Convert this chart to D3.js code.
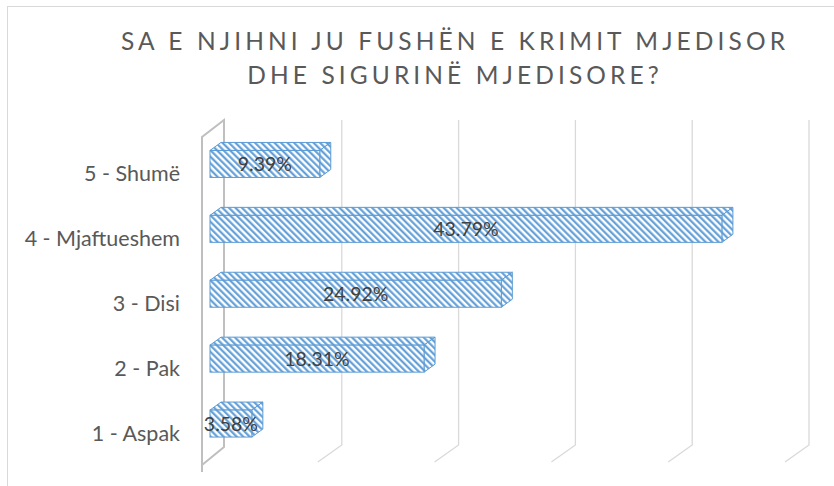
<!DOCTYPE html>
<html>
<head>
<meta charset="utf-8">
<script src="https://cdn.jsdelivr.net/npm/d3@7"></script>
<style>
  html, body { margin: 0; padding: 0; background: #fff; }
  svg { display: block; }
</style>
</head>
<body>
<svg id="chart" width="834" height="486"></svg>
<script>
// ---- data ----
const titleLines = ["SA E NJIHNI JU FUSHËN E KRIMIT MJEDISOR", "DHE SIGURINË MJEDISORE?"];
const categories = ["5 - Shumë", "4 - Mjaftueshem", "3 - Disi", "2 - Pak", "1 - Aspak"];
const values = [9.39, 43.79, 24.92, 18.31, 3.58];
const valueLabels = ["9.39%", "43.79%", "24.92%", "18.31%", "3.58%"];
const gridTicks = [10, 20, 30, 40, 50];

// ---- layout ----
const svg = d3.select("#chart");
const blue = "#5B9BD5";
const fontFam = "Lato, 'Open Sans', sans-serif";

// chart border
svg.append("rect").attr("x", 7.5).attr("y", 6.5).attr("width", 900).attr("height", 520)
  .attr("fill", "#fff").attr("stroke", "#D9D9D9").attr("stroke-width", 1);

// hatch pattern
const defs = svg.append("defs");
const pat = defs.append("pattern").attr("id", "hatch")
  .attr("patternUnits", "userSpaceOnUse").attr("width", 4.6).attr("height", 4.6)
  .attr("patternTransform", "rotate(-45)");
pat.append("rect").attr("width", 4.6).attr("height", 4.6).attr("fill", "#fff");
pat.append("line").attr("x1", 1.2).attr("y1", 0).attr("x2", 1.2).attr("y2", 4.6)
  .attr("stroke", blue).attr("stroke-width", 2.1);

// scales
const xFront = d3.scaleLinear().domain([0, 50]).range([210, 794.5]);
const xBack = d3.scaleLinear().domain([0, 50]).range([225, 809]);
const y = d3.scaleBand().domain(categories).range([131.5, 456])
  .paddingInner(0.584).paddingOuter(0.292);
const bw = y.bandwidth();
const dx = 11, dy = -8;

// back wall gridlines + floor diagonals
const gridTop = 120, gridBot = 445, floorDx = -24, floorDy = 17;
const grid = svg.append("g");
gridTicks.forEach(t => {
  const gx = xBack(t);
  grid.append("path")
    .attr("d", `M${gx},${gridTop} L${gx},${gridBot} L${gx + floorDx},${gridBot + floorDy}`)
    .attr("fill", "none").attr("stroke", "#D9D9D9").attr("stroke-width", 1.3);
});

// left side wall
const wx0 = 202, wx1 = xBack(0) - 1;
svg.append("path")
  .attr("d", `M${wx0},472 L${wx0},137 L${wx1},${gridTop} L${wx1},${gridBot + 2} L${wx0},465`)
  .attr("fill", "none").attr("stroke", "#BFBFBF").attr("stroke-width", 2);

// bars
const bars = svg.append("g");
categories.forEach((c, i) => {
  const x0 = xFront(0), x1 = xFront(values[i]);
  const y0 = y(c), y1 = y0 + bw;
  const g = bars.append("g");
  g.append("path")
    .attr("d", `M${x0},${y0} L${x0 + dx},${y0 + dy} L${x1 + dx},${y0 + dy} L${x1},${y0} Z`)
    .attr("fill", "url(#hatch)").attr("stroke", blue).attr("stroke-width", 1);
  g.append("path")
    .attr("d", `M${x1},${y0} L${x1 + dx},${y0 + dy} L${x1 + dx},${y1 + dy} L${x1},${y1} Z`)
    .attr("fill", "url(#hatch)").attr("stroke", blue).attr("stroke-width", 1);
  g.append("rect").attr("x", x0).attr("y", y0).attr("width", x1 - x0).attr("height", bw)
    .attr("fill", "url(#hatch)").attr("stroke", blue).attr("stroke-width", 1);
});

// data labels
svg.append("g").selectAll("text").data(categories).join("text")
  .attr("x", (c, i) => (xFront(0) + xFront(values[i])) / 2)
  .attr("y", c => y(c) + bw / 2 + 7)
  .attr("text-anchor", "middle")
  .attr("font-family", fontFam).attr("font-size", 19.5)
  .attr("fill", "#404040")
  .text((c, i) => valueLabels[i]);

// category labels
svg.append("g").selectAll("text").data(categories).join("text")
  .attr("x", 180)
  .attr("y", c => y(c) + bw / 2 + 17)
  .attr("text-anchor", "end")
  .attr("font-family", fontFam).attr("font-size", 21.5)
  .attr("fill", "#595959")
  .text(c => c);

// title: fit line 1 to reference width via letter-spacing
const titleCx = 453;
const titleBase = [50, 84];
const titleSize = 24.5;
const probe = svg.append("text").attr("font-family", fontFam).attr("font-size", titleSize)
  .text(titleLines[0]);
const natural = probe.node().getComputedTextLength();
probe.remove();
const ls = Math.max(0, (664 - natural) / (titleLines[0].length - 1));
titleLines.forEach((line, i) => {
  svg.append("text")
    .attr("x", titleCx + ls / 2).attr("y", titleBase[i])
    .attr("text-anchor", "middle")
    .attr("font-family", fontFam).attr("font-size", titleSize)
    .attr("fill", "#595959")
    .attr("letter-spacing", ls)
    .text(line);
});
</script>
</body>
</html>
